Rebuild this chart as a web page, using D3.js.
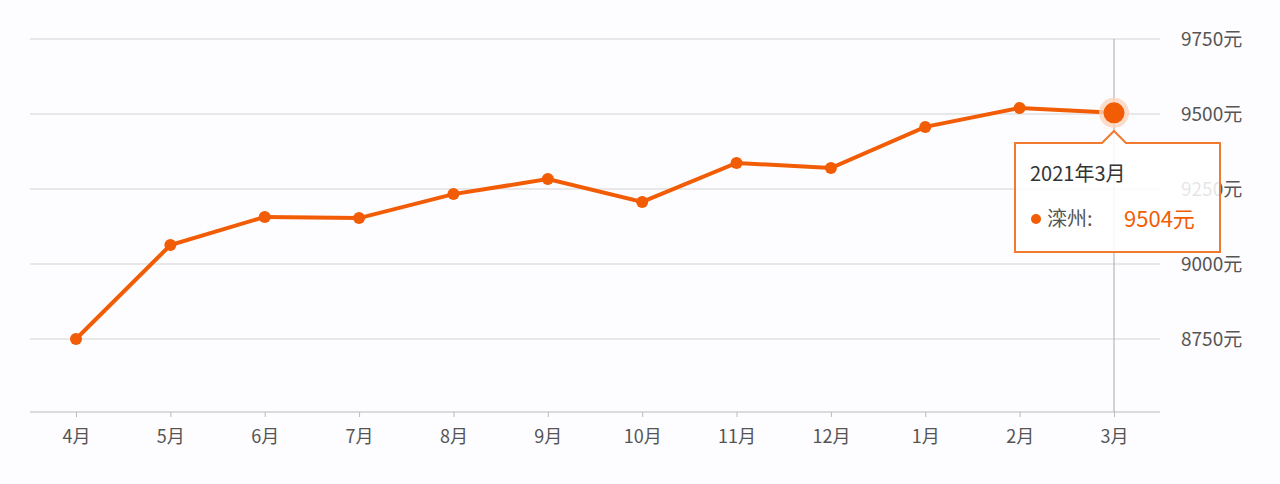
<!DOCTYPE html>
<html><head><meta charset="utf-8">
<script src="https://cdn.jsdelivr.net/npm/d3@7"></script>
<style>body{margin:0;background:#fdfcfe;font-family:"Noto Sans CJK SC","Noto Sans",sans-serif}</style>
</head><body><svg id="c" width="1280" height="484"></svg>
<script>
const months=["4月","5月","6月","7月","8月","9月","10月","11月","12月","1月","2月","3月"];
const prices=[8750,9063,9157,9153,9233,9283,9207,9337,9320,9457,9520,9504];
const yTicks=[8750,9000,9250,9500,9750];
const svg=d3.select("#c");
const color="#f25c05";
const x=d3.scalePoint().domain(months).range([76,1114]);
const y=d3.scaleLinear().domain([8500,9750]).range([414,39]);
svg.append("g").selectAll("line").data(yTicks).join("line")
 .attr("x1",30).attr("x2",1160).attr("y1",d=>y(d)).attr("y2",d=>y(d))
 .attr("stroke","#d4d4d4").attr("stroke-width",1);
const xa=svg.append("g").attr("transform","translate(0,412)")
 .call(d3.axisBottom(x).tickSize(5).tickSizeOuter(0));
xa.select(".domain").attr("d","M30,0H1160").attr("stroke","#bbb");
xa.selectAll(".tick line").attr("stroke","#bbb");
xa.selectAll("text").attr("dy","1.3em").attr("font-size",18).attr("fill","#555")
 .attr("font-family","Noto Sans CJK SC");
const ya=svg.append("g").attr("transform","translate(1181,0)")
 .call(d3.axisRight(y).tickValues(yTicks).tickSize(0).tickFormat(d=>d+"元"));
ya.select(".domain").remove();
ya.selectAll("text").attr("font-size",19).attr("fill","#555").attr("x",0)
 .attr("font-family","Noto Sans CJK SC");
svg.append("line").attr("x1",x("3月")).attr("x2",x("3月")).attr("y1",39).attr("y2",412)
 .attr("stroke","#aaa");
svg.append("path").datum(prices).attr("fill","none").attr("stroke",color).attr("stroke-width",4)
 .attr("d",d3.line().x((d,i)=>x(months[i])).y(d=>y(d)));
svg.append("g").selectAll("circle").data(prices.slice(0,-1)).join("circle")
 .attr("cx",(d,i)=>x(months[i])).attr("cy",d=>y(d)).attr("r",6).attr("fill",color);
const last=prices.length-1;
svg.append("circle").attr("cx",x(months[last])).attr("cy",y(prices[last])).attr("r",15)
 .attr("fill","#fbd3bd").attr("opacity",0.8);
svg.append("circle").attr("cx",x(months[last])).attr("cy",y(prices[last])).attr("r",10.5).attr("fill",color);
const tx=1015,ty=143,tw=205,th=109,ax=x(months[last]);
svg.append("path").attr("d",`M${tx},${ty}H${ax-12}L${ax},${ty-12}L${ax+12},${ty}H${tx+tw}V${ty+th}H${tx}Z`)
 .attr("fill","rgba(255,255,255,0.85)").attr("stroke","#f07a30").attr("stroke-width",2);
svg.append("text").attr("x",1030).attr("y",181).attr("font-size",20).attr("fill","#333").text("2021年3月");
svg.append("circle").attr("cx",1036).attr("cy",219).attr("r",5).attr("fill",color);
svg.append("text").attr("x",1047).attr("y",226).attr("font-size",20).attr("fill","#555").text("滦州:");
svg.append("text").attr("x",1124).attr("y",227).attr("font-size",22).attr("fill",color).text(prices[last]+"元");
</script></body></html>
